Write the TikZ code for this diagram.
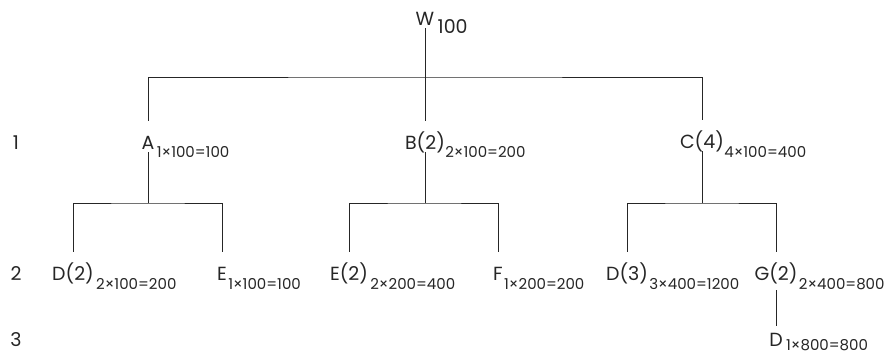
\documentclass[tikz,border=0pt]{standalone}
\usepackage{fontspec}
\setmainfont{Poppins}
\usepackage{tikz}
\usepackage{xcolor}

\definecolor{ink}{HTML}{262626}
\tikzset{
  word/.style={anchor=base, inner sep=0pt, text height=28pt, text depth=3pt,
    font=\fontsize{19}{21}\selectfont, text=ink},
  leaf/.style={word, text height=20pt},
  sub/.style={anchor=base west, inner sep=0pt, font=\fontsize{15}{17}\selectfont, text=ink},
  lvl/.style={anchor=base, inner sep=0pt, font=\fontsize{19}{21}\selectfont, text=ink},
  wire/.style={draw=ink, line width=0.8pt}
}

\begin{document}
\begin{tikzpicture}[x=1pt, y=-1pt]
    \useasboundingbox (0,0) rectangle (890,354);

    % Level numbers
    \node[lvl] (L1) at (16,149) {1};
    \node[lvl] (L2) at (16,280) {2};
    \node[lvl] (L3) at (16,346) {3};

    % Root
    \node[word, text height=14pt] (W) at (425,25) {W};
    \node[sub, font=\fontsize{19}{21}\selectfont] (Wsub) at ([shift={(3,8)}]W.base east) {100};

    % Level 1
    \node[word] (A) at (148,149) {A};
    \node[sub] (Asub) at ([shift={(2,8)}]A.base east) {1×100=100};
    \node[word] (B) at (425,149) {B(2)};
    \node[sub] (Bsub) at ([shift={(0,8)}]B.base east) {2×100=200};
    \node[word] (C) at (702,148) {C(4)};
    \node[sub] (Csub) at ([shift={(0,9)}]C.base east) {4×100=400};

    % Level 2
    \node[word] (D1) at (73,280) {D(2)};
    \node[sub] (D1sub) at ([shift={(2,9)}]D1.base east) {2×100=200};
    \node[word] (E1) at (222,280) {E};
    \node[sub] (E1sub) at ([shift={(1,9)}]E1.base east) {1×100=100};
    \node[word] (E2) at (349,280) {E(2)};
    \node[sub] (E2sub) at ([shift={(2,9)}]E2.base east) {2×200=400};
    \node[word] (F) at (498,280) {F};
    \node[sub] (Fsub) at ([shift={(1,9)}]F.base east) {1×200=200};
    \node[word] (D3) at (627,280) {D(3)};
    \node[sub] (D3sub) at ([shift={(1,9)}]D3.base east) {3×400=1200};
    \node[word, text depth=10pt] (G) at (776,280) {G(2)};
    \node[sub] (Gsub) at ([shift={(1,9)}]G.base east) {2×400=800};

    % Level 3
    \node[leaf] (D4) at (776,346) {D};
    \node[sub] (D4sub) at ([shift={(3,4)}]D4.base east) {1×800=800};

    % Bars
    \coordinate (top) at (425,77);
    \coordinate (Abar) at (148,203);
    \coordinate (Bbar) at (425,203);
    \coordinate (Cbar) at (702,203);

    % Connectors
    \draw[wire] (W.south) -- (B.north);
    \draw[wire] (A.north) |- (top) -| (C.north);
    \draw[wire] (A.south) -- (Abar);
    \draw[wire] (D1.north) |- (Abar) -| (E1.north);
    \draw[wire] (B.south) -- (Bbar);
    \draw[wire] (E2.north) |- (Bbar) -| (F.north);
    \draw[wire] (C.south) -- (Cbar);
    \draw[wire] (D3.north) |- (Cbar) -| (G.north);
    \draw[wire] (G.south) -- (D4.north);
\end{tikzpicture}
\end{document}
